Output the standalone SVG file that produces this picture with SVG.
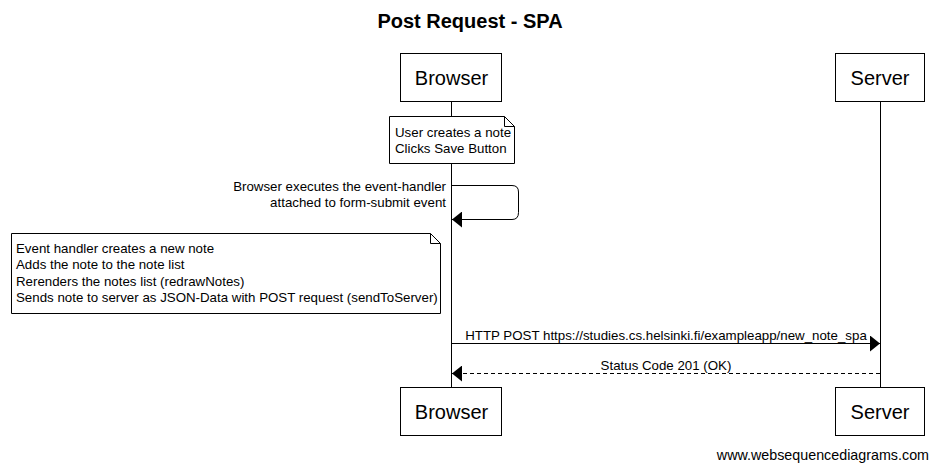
<svg xmlns="http://www.w3.org/2000/svg" width="939" height="471" viewBox="0 0 939 471">
<style>
text{font-family:"Liberation Sans",Arial,sans-serif;fill:#000}
.box{fill:#fff;stroke:#000;stroke-width:1}
.pt{font-size:20px;text-anchor:middle}
.nt{font-size:13.3px}
.ml{font-size:13.3px}
.ln{stroke:#000;stroke-width:1;fill:none}
</style>
<defs>
<marker id="ah" markerWidth="10" markerHeight="16" refX="10" refY="8" orient="auto" markerUnits="userSpaceOnUse">
<path d="M0,0 L10,8 L0,16 Z" fill="#000"/>
</marker>
</defs>
<rect width="939" height="471" fill="#fff"/>
<text x="470" y="28" font-size="20" font-weight="bold" text-anchor="middle">Post Request - SPA</text>
<g id="lifelines">
<line class="ln" x1="451.5" y1="102" x2="451.5" y2="387"/>
<line class="ln" x1="880.5" y1="102" x2="880.5" y2="387"/>
</g>
<g id="browser-top"><rect class="box" x="400.5" y="53.5" width="101" height="48"/><text class="pt" x="451.5" y="85">Browser</text></g>
<g id="server-top"><rect class="box" x="835.5" y="53.5" width="89" height="48"/><text class="pt" x="880" y="85">Server</text></g>
<g id="browser-bottom"><rect class="box" x="400.5" y="387.5" width="101" height="48"/><text class="pt" x="451.5" y="419">Browser</text></g>
<g id="server-bottom"><rect class="box" x="835.5" y="387.5" width="89" height="48"/><text class="pt" x="880" y="419">Server</text></g>
<g id="note1">
<path class="box" d="M389.5,116.5 H504.5 L514.5,126.5 V163.5 H389.5 Z"/>
<path class="ln" d="M504.5,116.5 V126.5 H514.5"/>
<text class="nt" x="395" y="137">User creates a note</text>
<text class="nt" x="395" y="153">Clicks Save Button</text>
</g>
<g id="note2">
<path class="box" d="M11.5,233.5 H430.5 L440.5,243.5 V313.5 H11.5 Z"/>
<path class="ln" d="M430.5,233.5 V243.5 H440.5"/>
<text class="nt" x="16" y="253">Event handler creates a new note</text>
<text class="nt" x="16" y="269">Adds the note to the note list</text>
<text class="nt" x="16" y="286">Rerenders the notes list (redrawNotes)</text>
<text class="nt" x="16" y="302">Sends note to server as JSON-Data with POST request (sendToServer)</text>
</g>
<g id="connectors">
<path class="ln" d="M452,185.5 H512 Q518.5,185.5 518.5,192 V212.5 Q518.5,219.5 512,219.5 H452" marker-end="url(#ah)"/>
<text class="ml" x="446" y="191" text-anchor="end">Browser executes the event-handler</text>
<text class="ml" x="446" y="207" text-anchor="end">attached to form-submit event</text>
<line class="ln" x1="452" y1="343.5" x2="880" y2="343.5" marker-end="url(#ah)"/>
<text class="ml" x="666" y="340" text-anchor="middle">HTTP POST https://studies.cs.helsinki.fi/exampleapp/new_note_spa</text>
<line class="ln" x1="880" y1="373.5" x2="452" y2="373.5" stroke-dasharray="4,3" marker-end="url(#ah)"/>
<text class="ml" x="666" y="370" text-anchor="middle">Status Code 201 (OK)</text>
</g>
<text x="929" y="460" font-size="14.3" text-anchor="end">www.websequencediagrams.com</text>
</svg>
